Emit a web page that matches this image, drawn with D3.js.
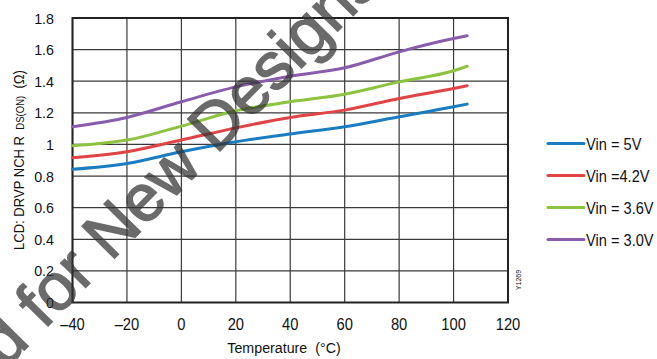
<!DOCTYPE html>
<html>
<head>
<meta charset="utf-8">
<script src="https://cdn.jsdelivr.net/npm/d3@7"></script>
<style>
  body { margin: 0; background: #fff; }
  svg text { font-family: "Liberation Sans", Arial, sans-serif; fill: #111; }
</style>
</head>
<body>
<svg width="657" height="359"></svg>
<script>
const temps = [-40, -20, 0, 20, 40, 60, 80, 100, 105]
const vin5 = [0.843, 0.88, 0.954, 1.017, 1.066, 1.112, 1.175, 1.238, 1.255]
const vin42 = [0.916, 0.954, 1.028, 1.105, 1.171, 1.217, 1.291, 1.354, 1.371]
const vin36 = [0.992, 1.028, 1.116, 1.213, 1.27, 1.318, 1.396, 1.466, 1.495]
const vin30 = [1.112, 1.171, 1.27, 1.364, 1.432, 1.485, 1.586, 1.67, 1.687]
const seriesNames = ["Vin = 5V", "Vin =4.2V", "Vin = 3.6V", "Vin = 3.0V"]
const seriesColors = ["#1a7cc1", "#e04444", "#8cc43f", "#8a5cae"]
const xTicks = [-40, -20, 0, 20, 40, 60, 80, 100, 120]
const yTicks = [0, 0.2, 0.4, 0.6, 0.8, 1, 1.2, 1.4, 1.6, 1.8]

const series = [vin5, vin42, vin36, vin30]

const svg = d3.select("svg")

const x = d3.scaleLinear()
    .domain([-40, 120])
    .range([72.5, 508])

const y = d3.scaleLinear()
    .domain([0, 1.8])
    .range([302.5, 18])

// grid
svg.append("g")
    .selectAll("line")
    .data(xTicks)
    .enter()
    .append("line")
    .attr("x1", d => x(d))
    .attr("x2", d => x(d))
    .attr("y1", y(0))
    .attr("y2", y(1.8))
    .style("stroke", "#3a3a3a")
    .style("stroke-width", 1.2)

svg.append("g")
    .selectAll("line")
    .data(yTicks)
    .enter()
    .append("line")
    .attr("x1", x(-40))
    .attr("x2", x(120))
    .attr("y1", d => y(d))
    .attr("y2", d => y(d))
    .style("stroke", "#3a3a3a")
    .style("stroke-width", 1.2)

// frame
svg.append("rect")
    .attr("x", x(-40))
    .attr("y", y(1.8))
    .attr("width", x(120) - x(-40))
    .attr("height", y(0) - y(1.8))
    .style("fill", "none")
    .style("stroke", "#222")
    .style("stroke-width", 2)

// tick labels
svg.append("g")
    .selectAll("text")
    .data(xTicks)
    .enter()
    .append("text")
    .attr("transform", d => `translate(${x(d)}, 330) scale(0.92, 1)`)
    .attr("text-anchor", "middle")
    .style("font-size", "16px")
    .text(d => d < 0 ? "\u2013" + Math.abs(d) : d)

svg.append("g")
    .selectAll("text")
    .data(yTicks)
    .enter()
    .append("text")
    .attr("transform", d => `translate(54, ${y(d) + 5.5}) scale(0.92, 1)`)
    .attr("text-anchor", "end")
    .style("font-size", "15.5px")
    .text(d => d)

// axis titles
svg.append("text")
    .attr("transform", "translate(284, 353) scale(0.92, 1)")
    .attr("text-anchor", "middle")
    .style("font-size", "15.5px")
    .text("Temperature\u00a0\u00a0(\u00b0C)")

const yTitle = svg.append("text")
    .attr("transform", "translate(24, 160) rotate(-90) scale(0.87, 1)")
    .attr("text-anchor", "middle")
    .style("font-size", "15px")
yTitle.append("tspan").text("LCD: DRVP NCH R\u00a0")
yTitle.append("tspan").style("font-size", "11px").text("\u00a0DS(ON)")
yTitle.append("tspan").text("\u00a0\u00a0(\u03a9)")

svg.append("text")
    .attr("transform", "translate(521, 280) rotate(-90)")
    .attr("text-anchor", "middle")
    .style("font-size", "7px")
    .text("Y1269")

// curves
const lineGenerator = d3.line()
    .x((d, i) => x(temps[i]))
    .y(d => y(d))
    .curve(d3.curveMonotoneX)

svg.append("g")
    .selectAll("path")
    .data(series)
    .enter()
    .append("path")
    .attr("d", d => lineGenerator(d))
    .style("fill", "none")
    .style("stroke", (d, i) => seriesColors[i])
    .style("stroke-width", 3)
    .style("stroke-linecap", "round")

// legend
const legend = svg.append("g")
    .selectAll("g")
    .data(seriesNames)
    .enter()
    .append("g")
    .attr("transform", (d, i) => `translate(548, ${143.5 + i * 32})`)

legend.append("line")
    .attr("x1", 0)
    .attr("x2", 36)
    .style("stroke", (d, i) => seriesColors[i])
    .style("stroke-width", 3)
    .style("stroke-linecap", "round")

legend.append("text")
    .attr("transform", "translate(38, 6) scale(0.86, 1)")
    .style("font-size", "17px")
    .text(d => d)

// watermark
const wm = svg.append("g")
    .attr("transform", "translate(44, 330) rotate(-45.5)")
    .style("opacity", 0.72)
wm.append("text")
    .attr("text-anchor", "end")
    .style("font-size", "66px")
    .style("fill", "#333")
    .style("stroke", "#333")
    .style("stroke-width", 1.6)
    .text("Not Recommended\u00a0")
wm.append("text")
    .style("font-size", "66px")
    .style("fill", "#333")
    .style("stroke", "#333")
    .style("stroke-width", 1.6)
    .text("for New Designs")
</script>
</body>
</html>
